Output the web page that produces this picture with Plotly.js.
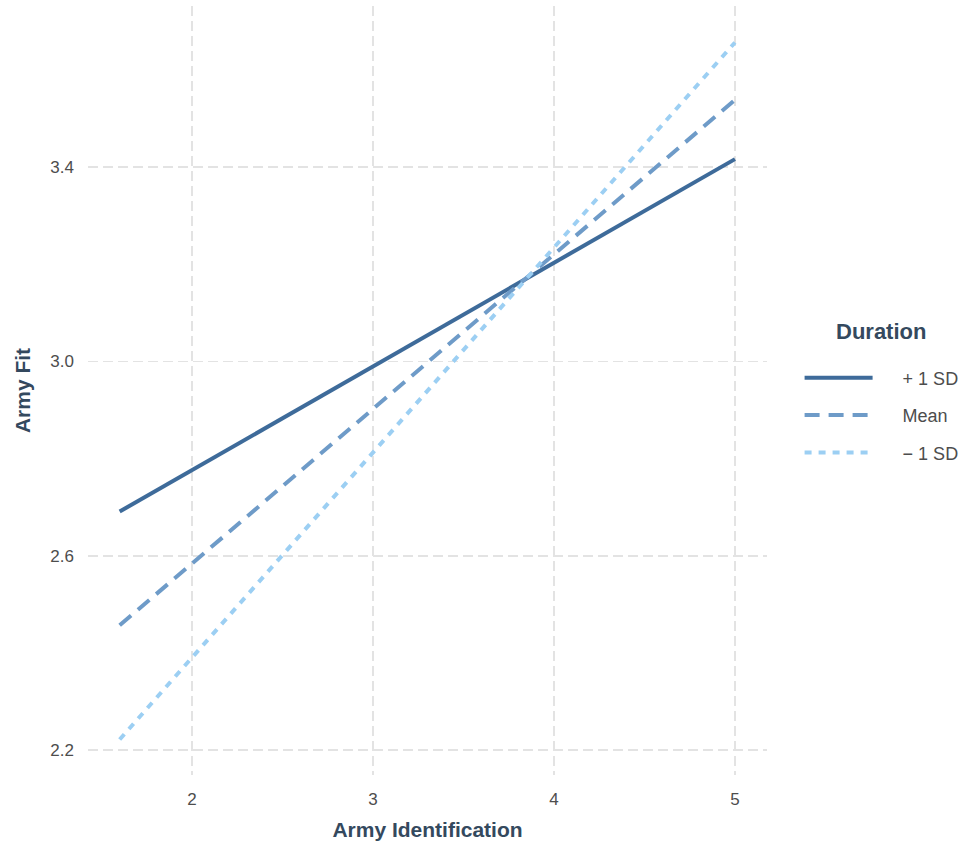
<!DOCTYPE html>
<html>
<head>
<meta charset="utf-8">
<script src="https://cdn.plot.ly/plotly-3.0.1.min.js"></script>
<style>html,body{margin:0;padding:0;background:#fff;}#chart{width:961px;height:847px;}</style>
</head>
<body>
<div id="chart"></div>
<script>
// Data
const xValues = [1.6, 5];
const seriesNames = ["+ 1 SD", "Mean", "\u2212 1 SD"];
const plusSD = [2.691, 3.416];
const meanVals = [2.457, 3.538];
const minusSD = [2.222, 3.656];
const xTicks = [2, 3, 4, 5];
const yTicks = [2.2, 2.6, 3.0, 3.4];
const legendTitle = "Duration";

const colors = ["#3e6b9a", "#6e9bc8", "#9ccff3"];
const dashes = ["solid", "15px,9px", "7px,7px"];
const series = [plusSD, meanVals, minusSD];
const pad = "\u00a0\u00a0\u00a0\u00a0\u00a0";

const traces = series.map((vals, i) => ({
  x: xValues,
  y: vals,
  type: "scatter",
  mode: "lines",
  name: pad + seriesNames[i],
  legendgroup: "g" + i,
  line: {color: colors[i], width: 4, dash: dashes[i]},
  hoverinfo: "skip"
}));

const font = "Liberation Sans, Arial, sans-serif";
const layout = {
  width: 961, height: 847,
  margin: {l: 88, r: 194, t: 6, b: 72, autoexpand: false},
  paper_bgcolor: "#fff", plot_bgcolor: "#fff",
  font: {family: font, color: "#4d4d4d"},
  xaxis: {
    range: [1.425, 5.177],
    tickvals: xTicks,
    ticktext: xTicks.map(String),
    showgrid: true, gridcolor: "#e3e3e3", gridwidth: 1.5, griddash: "10px,5px",
    zeroline: false, showline: false, ticks: "",
    ticklabelstandoff: 12,
    tickfont: {size: 17, color: "#4d4d4d"},
    title: {text: "Army Identification", font: {size: 21, color: "#34495e", family: font, weight: "bold"}, standoff: 14}
  },
  yaxis: {
    range: [2.149, 3.731],
    tickvals: yTicks,
    ticktext: yTicks.map(v => v.toFixed(1)),
    showgrid: true, gridcolor: "#e3e3e3", gridwidth: 1.5, griddash: "10px,5px",
    zeroline: false, showline: false, ticks: "",
    ticklabelstandoff: 13,
    tickfont: {size: 17, color: "#4d4d4d"},
    title: {text: "Army Fit", font: {size: 21, color: "#34495e", family: font, weight: "bold"}, standoff: 14}
  },
  showlegend: true,
  legend: {
    x: 1.048, y: 0.4675, xanchor: "left", yanchor: "middle",
    itemwidth: 68,
    tracegroupgap: 11,
    font: {size: 18, color: "#4d4d4d", family: font},
    bgcolor: "rgba(0,0,0,0)"
  },
  annotations: [{
    text: legendTitle, xref: "paper", yref: "paper",
    x: 1.168, y: 0.577, xanchor: "center", yanchor: "middle",
    showarrow: false,
    font: {size: 22, color: "#34495e", family: font, weight: "bold"}
  }]
};

Plotly.newPlot("chart", traces, layout, {displayModeBar: false, staticPlot: true});
</script>
</body>
</html>
